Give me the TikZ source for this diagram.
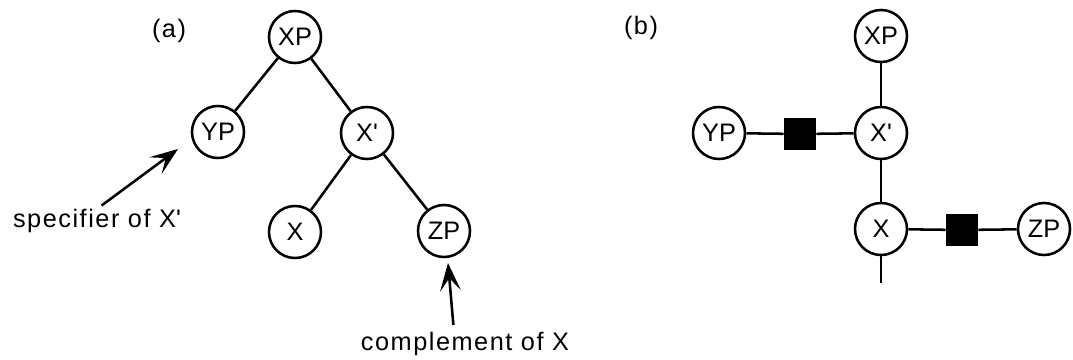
\documentclass[tikz,border=0pt]{standalone}
\usepackage{fontspec}
\setmainfont{Liberation Sans}
\newfontfamily\notefont[LetterSpace=6]{Liberation Sans}
\usetikzlibrary{arrows.meta}
\newcommand{\primebar}{\textquotesingle}
\tikzset{
  cat/.style={draw,circle,line width=1.8pt,minimum size=1.3cm,inner sep=0pt,
    font=\fontsize{18}{21}\selectfont},
  gate/.style={fill=black,minimum size=0.8cm,inner sep=0pt},
  note/.style={font=\notefont\fontsize{18}{21}\selectfont,inner sep=0pt},
  pointer/.style={line width=1.8pt,-{Stealth[length=7mm,width=5.2mm,inset=3.2mm]}}
}
\begin{document}
\begin{tikzpicture}[x=0.025cm,y=-0.025cm]
  \useasboundingbox (0,0) rectangle (1073,360);
  % (a) phrase tree
  \draw
    (169,31) node[note] (taga){(a)}
    (295,37) node[cat] (xpa){XP}
    (218,132) node[cat] (ypa){YP}
    (367,133) node[cat] (xbara){X\primebar}
    (295,232) node[cat] (xa){X}
    (444,231) node[cat] (zpa){ZP}
    (97,221) node[note] (spec){specifier of X\primebar}
    (465,344) node[note] (comp){complement of X};
  \coordinate (spectip) at (178,149);
  \coordinate (comptip) at (448,263);
  \begin{scope}[line width=1.8pt]
    \draw (xpa) to (ypa);
    \draw (xpa) to (xbara);
    \draw (xbara) to (xa);
    \draw (xbara) to (zpa);
  \end{scope}
  \draw[pointer,shorten <=4pt] (spec.north) to (spectip);
  \draw[pointer,shorten <=5pt] (comp.north -| 454,0) to (comptip);
  % (b) chain with gates
  \draw
    (641,28) node[note] (tagb){(b)}
    (881,36) node[cat] (xpb){XP}
    (881,133) node[cat] (xbarb){X\primebar}
    (881,229) node[cat] (xb){X}
    (719,133) node[cat] (ypb){YP}
    (1044,229) node[cat] (zpb){ZP}
    (800,134) node[gate] (g1){}
    (962,230) node[gate] (g2){};
  \coordinate (stub) at (881,283);
  \begin{scope}[line width=1.8pt]
    \draw (xpb) to (xbarb);
    \draw (xbarb) to (xb);
    \draw (xb) to (stub);
    \draw (ypb) to (g1);
    \draw (g1) to (xbarb);
    \draw (xb) to (g2);
    \draw (g2) to (zpb);
  \end{scope}
\end{tikzpicture}
\end{document}
